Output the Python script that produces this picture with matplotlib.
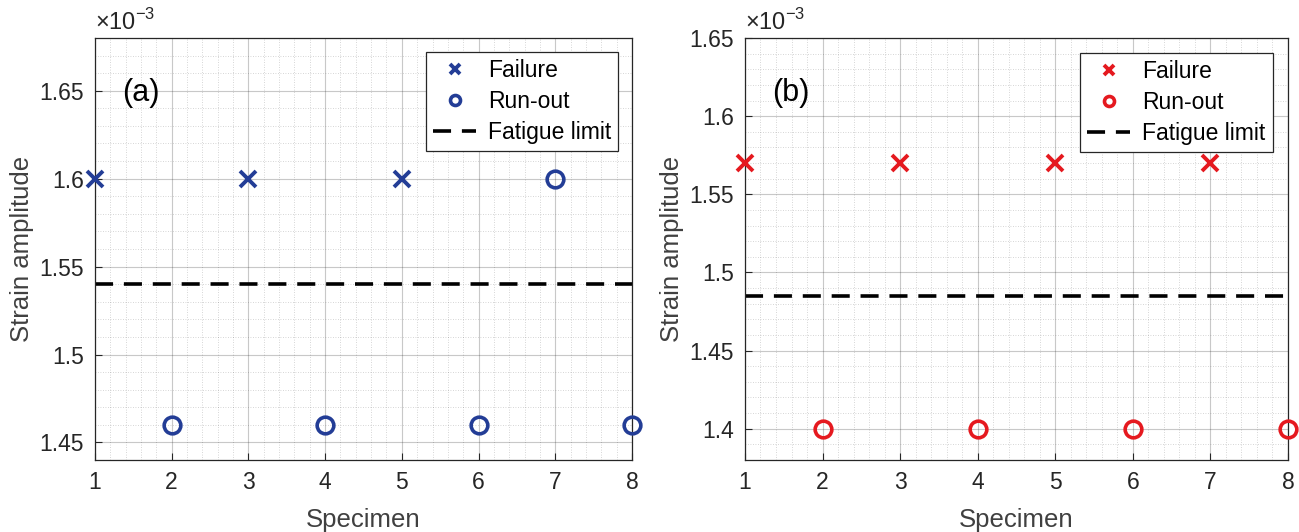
import numpy as np
import matplotlib.pyplot as plt
from matplotlib.ticker import FuncFormatter, MultipleLocator

plt.rcParams['font.family'] = ['Liberation Sans', 'DejaVu Sans']
plt.rcParams['mathtext.fontset'] = 'custom'
plt.rcParams['mathtext.rm'] = 'Liberation Sans'

# panel (a)
fail_x_a = [1, 3, 5]
fail_y_a = [1.60e-3, 1.60e-3, 1.60e-3]
run_x_a = [2, 4, 6, 7, 8]
run_y_a = [1.46e-3, 1.46e-3, 1.46e-3, 1.60e-3, 1.46e-3]
limit_a = 1.54e-3

# panel (b)
fail_x_b = [1, 3, 5, 7]
fail_y_b = [1.57e-3, 1.57e-3, 1.57e-3, 1.57e-3]
run_x_b = [2, 4, 6, 8]
run_y_b = [1.40e-3, 1.40e-3, 1.40e-3, 1.40e-3]
limit_b = 1.485e-3

specimens = [1, 2, 3, 4, 5, 6, 7, 8]

txt = '#262626'
W, H = 1299, 532
fig = plt.figure(figsize=(12.99, 5.32), dpi=100)
ax_a = fig.add_axes([0.0731, 0.1353, 0.4134, 0.7933])
ax_b = fig.add_axes([0.5735, 0.1353, 0.4180, 0.7933])

panels = [
    (ax_a, fail_x_a, fail_y_a, run_x_a, run_y_a, limit_a, '#233d96', '(a)',
     (1.44e-3, 1.68e-3), (426, 618, 52, 149)),
    (ax_b, fail_x_b, fail_y_b, run_x_b, run_y_b, limit_b, '#e5191f', '(b)',
     (1.38e-3, 1.65e-3), (1080, 1273, 53, 150)),
]

for ax, fx, fy, rx, ry, lim, col, tag, ylim, lg in panels:
    ax.plot(fx, fy, 'x', color=col, ms=11, mew=2.8, label='Failure', clip_on=False, zorder=5)
    ax.plot(rx, ry, 'o', color=col, ms=12, mew=2.6, mfc='none', label='Run-out', clip_on=False, zorder=5)
    ax.plot([specimens[0], specimens[-1]], [lim, lim], '--', color='k', lw=2.6,
            dashes=(5, 3), label='Fatigue limit')
    ax.set_xlim(specimens[0], specimens[-1])
    ax.set_ylim(*ylim)
    ax.set_xticks(specimens)
    ax.yaxis.set_major_locator(MultipleLocator(0.05e-3))
    ax.yaxis.set_minor_locator(MultipleLocator(0.01e-3))
    ax.xaxis.set_minor_locator(MultipleLocator(0.2))
    ax.yaxis.set_major_formatter(FuncFormatter(lambda v, p: '%g' % round(v * 1e3, 4)))
    ax.grid(True, which='major', color='#262626', alpha=0.25, lw=0.8)
    ax.grid(True, which='minor', color='#262626', alpha=0.25, lw=0.6, ls=(0, (1, 2)))
    ax.set_axisbelow(True)
    ax.tick_params(which='major', direction='in', length=5, labelsize=16.5, colors=txt, pad=8)
    ax.tick_params(which='minor', length=0)
    for s in ax.spines.values():
        s.set_color(txt)
        s.set_linewidth(0.9)
    ax.set_xlabel('Specimen', fontsize=18.5, color='#404040', labelpad=10)
    ax.set_ylabel('Strain amplitude', fontsize=18.5, color='#404040', labelpad=4)
    ax.text(0.0, 1.008, r'$\times10^{-3}$', transform=ax.transAxes, fontsize=17,
            color=txt, ha='left', va='bottom')
    ax.text(0.05, 0.87, tag, transform=ax.transAxes, fontsize=22, color='k',
            ha='left', va='center')
    x0, x1, y0, y1 = lg
    leg = ax.legend(loc='upper left', bbox_to_anchor=(x0 / W, 1 - y1 / H, (x1 - x0) / W, (y1 - y0) / H),
                    bbox_transform=fig.transFigure, mode='expand', fontsize=16.5, frameon=True,
                    fancybox=False, markerscale=0.6, handlelength=1.9, handletextpad=0.5,
                    borderpad=0.3, labelspacing=0.36, borderaxespad=0)
    leg.get_frame().set_edgecolor(txt)
    leg.get_frame().set_linewidth(0.9)
    leg.get_frame().set_alpha(1)

fig.savefig('out.png', dpi=100)
